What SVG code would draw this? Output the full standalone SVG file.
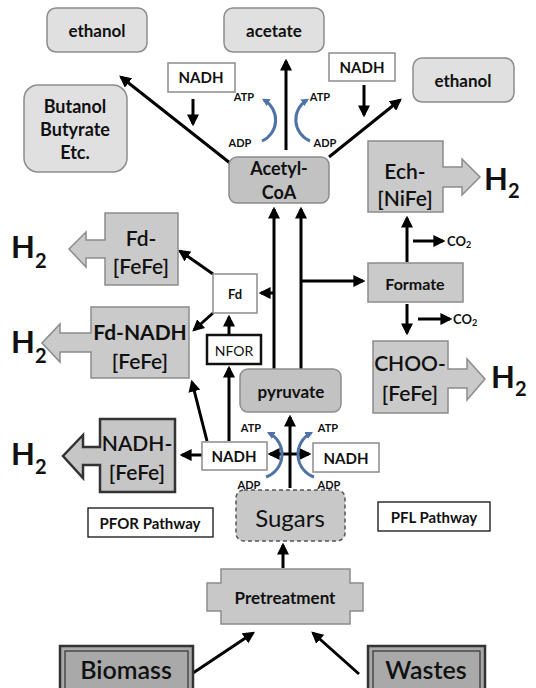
<svg xmlns="http://www.w3.org/2000/svg" width="536" height="688" viewBox="0 0 536 688">
<style>
text{font-family:Lato,"Liberation Sans",sans-serif;text-anchor:middle;dominant-baseline:central;fill:#111}
.b{font-weight:bold}
.m{font-weight:600}
.lt{fill:#e0e0e0;stroke:#8c8c8c;stroke-width:1.5}
.dk{fill:#c2c2c2;stroke:#8c8c8c;stroke-width:1.5}
.hy{fill:#cacaca;stroke:#8c8c8c;stroke-width:1.5}
.wb{fill:#fff;stroke:#8c8c8c;stroke-width:1.5}
.bk{fill:#fff;stroke:#111;stroke-width:1.3}
.ar{stroke:#000;stroke-width:3;fill:none;marker-end:url(#ah)}
.bl{stroke:#4f73a6;stroke-width:3;fill:none;marker-end:url(#bh)}
.h2{font-weight:bold;font-size:31px;text-anchor:start;dominant-baseline:alphabetic}
.sub{font-size:20px}
.ap{font-weight:bold;font-size:11px}
</style>
<defs>
<marker id="ah" viewBox="0 0 10 10" refX="8" refY="5" markerWidth="4" markerHeight="4" orient="auto"><path d="M0,0 L10,5 L0,10 Z" fill="#000"/></marker>
<marker id="bh" viewBox="0 0 10 10" refX="7" refY="5" markerWidth="2.6" markerHeight="2.6" orient="auto"><path d="M0,0 L10,5 L0,10 Z" fill="#4f73a6"/></marker>
</defs>

<g id="connectors">
<line class="ar" x1="230" y1="163" x2="121" y2="77"/>
<line class="ar" x1="329" y1="157" x2="400" y2="100"/>
<line class="ar" x1="286" y1="150" x2="286" y2="61"/>
<line class="ar" x1="193" y1="99" x2="193" y2="124"/>
<line class="ar" x1="364" y1="85" x2="364" y2="115"/>
<line class="ar" x1="274" y1="369" x2="274" y2="209"/>
<line class="ar" x1="301" y1="369" x2="301" y2="209"/>
<line class="ar" x1="275" y1="293" x2="261" y2="293"/>
<line class="ar" x1="300" y1="281" x2="363" y2="281"/>
<line class="ar" x1="213" y1="274" x2="180" y2="251"/>
<line class="ar" x1="229" y1="335" x2="229" y2="317"/>
<line class="ar" x1="213" y1="313" x2="194" y2="330"/>
<line class="ar" x1="207" y1="441" x2="192" y2="382"/>
<line class="ar" x1="229" y1="441" x2="229" y2="368"/>
<line class="ar" x1="202" y1="455" x2="182" y2="455"/>
<line class="ar" x1="290" y1="488" x2="290" y2="417"/>
<line class="ar" x1="290" y1="454" x2="270" y2="454"/>
<line class="ar" x1="290" y1="454" x2="309" y2="454"/>
<line class="ar" x1="407" y1="262" x2="407" y2="218"/>
<line class="ar" x1="413" y1="241" x2="443" y2="241"/>
<line class="ar" x1="407" y1="304" x2="407" y2="333"/>
<line class="ar" x1="418" y1="319" x2="450" y2="319"/>
<line class="ar" x1="283" y1="568" x2="283" y2="545"/>
<line class="ar" x1="193" y1="673" x2="253" y2="633"/>
<line class="ar" x1="359" y1="674" x2="313" y2="633"/>
<path class="bl" d="M262,141 A23,23 0 0 0 264,100"/>
<path class="bl" d="M310,141 A23,23 0 0 1 307,100"/>
<path class="bl" d="M266,477 A24,24 0 0 0 269,433"/>
<path class="bl" d="M314,477 A24,24 0 0 1 311,433"/>
</g>

<g id="ethanol-left"><rect class="lt" x="47" y="8" width="100" height="44" rx="9"/><text class="b" x="97" y="30" font-size="17">ethanol</text></g>
<g id="acetate"><rect class="lt" x="224" y="8" width="100" height="44" rx="9"/><text class="b" x="274" y="30" font-size="17">acetate</text></g>
<g id="ethanol-right"><rect class="lt" x="413" y="58" width="101" height="44" rx="9"/><text class="b" x="463" y="80" font-size="17">ethanol</text></g>
<g id="butanol"><rect class="lt" x="24" y="85" width="103" height="87" rx="14"/>
<text class="b" x="75" y="106" font-size="18">Butanol</text><text class="b" x="75" y="129" font-size="18">Butyrate</text><text class="b" x="75" y="152" font-size="18">Etc.</text></g>
<g id="nadh-top-left"><rect class="wb" x="168" y="63" width="67" height="29"/><text class="b" x="201" y="77" font-size="15">NADH</text></g>
<g id="nadh-top-right"><rect class="wb" x="329" y="53" width="66" height="28"/><text class="b" x="362" y="67" font-size="15">NADH</text></g>
<g id="acetyl-coa"><rect class="dk" x="229" y="157" width="100" height="46" rx="8"/><text class="b" x="279" y="168" font-size="18">Acetyl-</text><text class="b" x="279" y="192" font-size="18">CoA</text></g>
<g id="atp-upper">
<text class="ap" x="244" y="96">ATP</text><text class="ap" x="240" y="142">ADP</text>
<text class="ap" x="320" y="96">ATP</text><text class="ap" x="325" y="142">ADP</text>
</g>

<g id="fd-fefe"><path class="hy" d="M105,213 H178 V285 H105 V258 H86 V267 L69,249 L86,232 V240 H105 Z"/>
<text class="m" x="141" y="237" font-size="21">Fd-</text><text class="m" x="141" y="265" font-size="21">[FeFe]</text>
<text class="h2" x="11" y="258">H<tspan class="sub" dy="10">2</tspan></text></g>
<g id="fd"><rect class="wb" x="213" y="274" width="44" height="39"/><text class="b" x="235" y="294" font-size="13">Fd</text></g>
<g id="nfor"><rect x="207" y="335" width="54" height="29" fill="#fff" stroke="#111" stroke-width="2.5"/><text x="234" y="350" font-size="14">NFOR</text></g>
<g id="fd-nadh-fefe"><path class="hy" d="M91,307 H189 V378 H91 V352 H60 V362 L42,343 L60,324 V333 H91 Z"/>
<text class="b" x="140" y="331" font-size="21">Fd-NADH</text><text class="m" x="140" y="360" font-size="21">[FeFe]</text>
<text class="h2" x="11" y="353">H<tspan class="sub" dy="10">2</tspan></text></g>
<g id="nadh-fefe"><path d="M100,419 H175 V492 H100 V465 H83 V478 L63,456 L83,435 V447 H100 Z" fill="#c6c6c6" stroke="#333" stroke-width="2.5"/>
<text class="m" x="137" y="442" font-size="21">NADH-</text><text class="m" x="137" y="471" font-size="21">[FeFe]</text>
<text class="h2" x="11" y="465">H<tspan class="sub" dy="9">2</tspan></text></g>
<g id="nadh-lower-left"><rect class="wb" x="202" y="442" width="65" height="28"/><text class="b" x="234" y="456" font-size="15">NADH</text></g>
<g id="nadh-lower-right"><rect class="wb" x="313" y="443" width="66" height="29"/><text class="b" x="346" y="458" font-size="15">NADH</text></g>
<g id="pyruvate"><rect class="dk" x="240" y="369" width="101" height="43" rx="8"/><text class="b" x="291" y="391" font-size="17">pyruvate</text></g>
<g id="atp-lower">
<text class="ap" x="251" y="427">ATP</text><text class="ap" x="249" y="484">ADP</text>
<text class="ap" x="328" y="427">ATP</text><text class="ap" x="329" y="484">ADP</text>
</g>
<g id="sugars"><rect x="236" y="490" width="109" height="51" rx="8" fill="#c8c8c8" stroke="#555" stroke-width="1.5" stroke-dasharray="4,3"/><text x="290" y="517" font-size="24">Sugars</text></g>
<g id="pfor"><rect class="bk" x="88" y="508" width="125" height="29"/><text class="b" x="150" y="523" font-size="15">PFOR Pathway</text></g>
<g id="pfl"><rect class="bk" x="378" y="502" width="112" height="29"/><text class="b" x="434" y="517" font-size="15">PFL Pathway</text></g>

<g id="ech-nife"><path class="hy" d="M368,141 H443 V167 H462 V159 L480,177 L462,195 V187 H443 V212 H368 Z"/>
<text class="m" x="405" y="170" font-size="21">Ech-</text><text class="m" x="405" y="197" font-size="21">[NiFe]</text>
<text class="h2" x="484" y="190">H<tspan class="sub" dy="8">2</tspan></text></g>
<g id="formate"><rect class="hy" x="368" y="263" width="95" height="39"/><text class="b" x="415" y="283" font-size="16">Formate</text></g>
<g id="co2-upper"><text class="b" x="447" y="241" font-size="13" style="text-anchor:start">CO<tspan font-size="9" dy="3">2</tspan></text></g>
<g id="co2-lower"><text class="b" x="453" y="319" font-size="13" style="text-anchor:start">CO<tspan font-size="9" dy="3">2</tspan></text></g>
<g id="choo-fefe"><path class="hy" d="M373,341 H448 V369 H467 V359 L485,379 L467,400 V388 H448 V413 H373 Z"/>
<text class="m" x="410" y="362" font-size="21">CHOO-</text><text class="m" x="410" y="392" font-size="21">[FeFe]</text>
<text class="h2" x="491" y="388">H<tspan class="sub" dy="8">2</tspan></text></g>

<g id="pretreatment"><path d="M221,569 H350 V583 H363 V611 H350 V624 H221 V611 H207 V583 H221 Z" fill="#c8c8c8" stroke="#8c8c8c" stroke-width="1.5"/><text class="b" x="285" y="597" font-size="17">Pretreatment</text></g>
<g id="biomass"><rect x="60" y="646" width="133" height="46" fill="#a9a9a9" stroke="#333" stroke-width="2.5"/><rect x="65" y="651" width="123" height="40" fill="#a9a9a9" stroke="#333" stroke-width="1.2"/><text class="m" x="126" y="669" font-size="25">Biomass</text></g>
<g id="wastes"><rect x="368" y="646" width="117" height="46" fill="#a9a9a9" stroke="#333" stroke-width="2.5"/><rect x="373" y="651" width="107" height="40" fill="#a9a9a9" stroke="#333" stroke-width="1.2"/><text class="m" x="426" y="669" font-size="25">Wastes</text></g>
</svg>
